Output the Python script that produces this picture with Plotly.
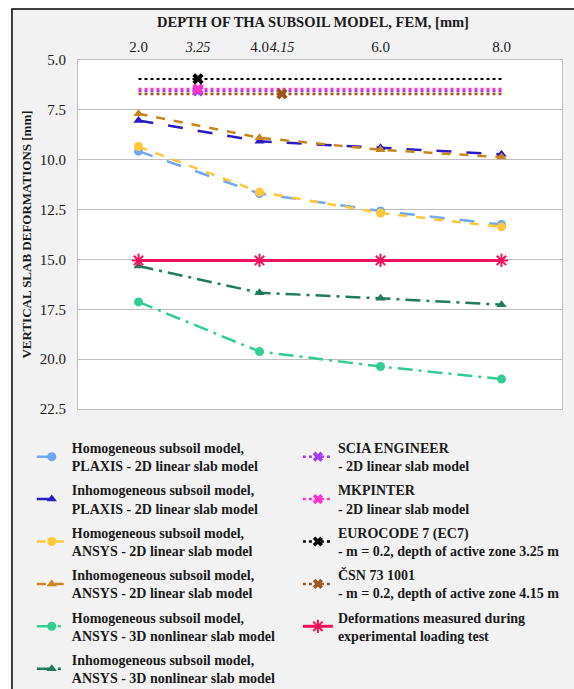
import plotly.graph_objects as go

# Depth of the FEM subsoil model [m]
depths = [2.0, 4.0, 6.0, 8.0]

# Vertical slab deformations [mm]
homog_plaxis_2d = [9.57, 11.70, 12.57, 13.25]
inhomog_plaxis_2d = [8.03, 9.08, 9.40, 9.73]
homog_ansys_2d = [9.34, 11.62, 12.67, 13.37]
inhomog_ansys_2d = [7.70, 8.90, 9.50, 9.87]
homog_ansys_3d = [17.13, 19.62, 20.37, 21.00]
inhomog_ansys_3d = [15.33, 16.67, 16.95, 17.27]
measured = [15.05, 15.05, 15.05, 15.05]

# Single-value methods: deformation [mm] and the depth [m] where it is marked
scia_value, scia_depth = 6.55, 3.25
mkpinter_value, mkpinter_depth = 6.45, 3.25
ec7_value, ec7_depth = 5.95, 3.25
csn_value, csn_depth = 6.70, 4.15

depth_ticks = [2.0, 4.0, 6.0, 8.0]
zone_ticks = [3.25, 4.15]
y_ticks = [5.0, 7.5, 10.0, 12.5, 15.0, 17.5, 20.0, 22.5]

SERIF = "Liberation Serif"
TXT = "#1A1A1A"

fig = go.Figure()

fem_series = [
    ("Homogeneous subsoil model,<br>PLAXIS - 2D linear slab model", homog_plaxis_2d, "#6FA8EE", "longdash", "circle"),
    ("Inhomogeneous subsoil model,<br>PLAXIS - 2D linear slab model", inhomog_plaxis_2d, "#2B1BC4", "longdash", "triangle-up"),
    ("Homogeneous subsoil model,<br>ANSYS - 2D linear slab model", homog_ansys_2d, "#FFC83A", "dash", "circle"),
    ("Inhomogeneous subsoil model,<br>ANSYS - 2D linear slab model", inhomog_ansys_2d, "#C8871E", "dash", "triangle-up"),
    ("Homogeneous subsoil model,<br>ANSYS - 3D nonlinear slab model", homog_ansys_3d, "#33CC92", "longdashdot", "circle"),
    ("Inhomogeneous subsoil model,<br>ANSYS - 3D nonlinear slab model", inhomog_ansys_3d, "#1F7B5B", "longdashdot", "triangle-up"),
]

for i, (name, vals, color, dash, symbol) in enumerate(fem_series):
    fig.add_trace(go.Scatter(
        x=depths, y=vals, name=name, mode="lines+markers",
        line=dict(color=color, width=2.5, dash=dash),
        marker=dict(color=color, size=9, symbol=symbol),
        legend="legend", legendgroup=f"g{i}",
    ))

ref_series = [
    ("SCIA ENGINEER<br>- 2D linear slab model", scia_value, scia_depth, "#A23BF2"),
    ("MKPINTER<br>- 2D linear slab model", mkpinter_value, mkpinter_depth, "#FF33CC"),
    ("EUROCODE 7 (EC7)<br>- m = 0.2, depth of active zone 3.25 m", ec7_value, ec7_depth, "#000000"),
    ("ČSN 73 1001<br>- m = 0.2, depth of active zone 4.15 m", csn_value, csn_depth, "#9A561C"),
]

# horizontal dotted level across the modelled depth range
for i, (name, val, depth, color) in enumerate(ref_series):
    fig.add_trace(go.Scatter(
        x=[depths[0], depths[-1]], y=[val, val], mode="lines",
        line=dict(color=color, width=2.5 if color != "#000000" else 2, dash="dot"),
        showlegend=False, hoverinfo="skip",
    ))

# point markers at the active-zone depth (secondary depth axis)
for i, (name, val, depth, color) in enumerate(ref_series):
    fig.add_trace(go.Scatter(
        x=[depth], y=[val], mode="markers", xaxis="x2",
        marker=dict(color=color, size=10, symbol="x"),
        showlegend=False,
    ))

# legend entries for the single-value methods
for i, (name, val, depth, color) in enumerate(ref_series):
    fig.add_trace(go.Scatter(
        x=[None], y=[None], name=name, mode="lines+markers",
        line=dict(color=color, width=2.5, dash="dot"),
        marker=dict(color=color, size=9, symbol="x"),
        legend="legend2", legendgroup=f"r{i}",
    ))

fig.add_trace(go.Scatter(
    x=depths, y=measured, name="Deformations measured during<br>experimental loading test",
    mode="lines+markers",
    line=dict(color="#F5125C", width=3),
    marker=dict(color="#F5125C", size=11, symbol="asterisk-open",
                line=dict(color="#F5125C", width=2)),
    legend="legend2", legendgroup="m",
))

legend_font = dict(family=SERIF, size=14, color=TXT, weight="bold")
tick_font = dict(family=SERIF, size=15, color=TXT)

fig.update_layout(
    width=574, height=689,
    margin=dict(l=78, r=12, t=60, b=280, autoexpand=False),
    paper_bgcolor="white", plot_bgcolor="white",
    font=dict(family=SERIF, size=15, color=TXT),
    title=dict(text="<b>DEPTH OF THA SUBSOIL MODEL, FEM, [mm]</b>",
               font=dict(family=SERIF, size=14.5, color=TXT),
               xref="container", yref="container",
               x=313 / 574, y=1 - 22 / 689, xanchor="center", yanchor="middle"),
    xaxis=dict(
        side="top", range=[1.0, 9.0],
        tickvals=depth_ticks, ticktext=[f"{v:.1f}" for v in depth_ticks],
        ticks="outside", ticklen=1, tickcolor="rgba(0,0,0,0)",
        tickfont=tick_font,
        showgrid=False, zeroline=False,
        showline=True, linecolor="#BFBFBF", linewidth=1.2, mirror=True,
    ),
    xaxis2=dict(
        overlaying="x", side="top", range=[1.964, 7.151],
        tickvals=zone_ticks, ticktext=[f"{v:.2f}" for v in zone_ticks],
        ticks="outside", ticklen=1, tickcolor="rgba(0,0,0,0)",
        tickfont=dict(family=SERIF, size=14, color=TXT, style="italic"),
        showgrid=False, zeroline=False, showline=False,
    ),
    yaxis=dict(
        range=[y_ticks[-1], y_ticks[0]],
        tickvals=y_ticks, ticktext=[f"{v:.1f}" for v in y_ticks],
        ticks="outside", ticklen=8, tickcolor="rgba(0,0,0,0)",
        tickfont=tick_font,
        showgrid=True, gridcolor="#BFBFBF", gridwidth=1.2, zeroline=False,
        showline=True, linecolor="#BFBFBF", linewidth=1.2, mirror=True,
        title=dict(text="<b>VERTICAL SLAB DEFORMATIONS [mm]</b>",
                   font=dict(family=SERIF, size=13, color=TXT), standoff=5),
    ),
    legend=dict(
        x=-0.0955, y=-0.0659, xanchor="left", yanchor="top",
        bgcolor="rgba(0,0,0,0)", traceorder="grouped", tracegroupgap=3,
        font=legend_font,
    ),
    legend2=dict(
        x=0.4543, y=-0.0659, xanchor="left", yanchor="top",
        bgcolor="rgba(0,0,0,0)", traceorder="grouped", tracegroupgap=3,
        font=legend_font,
    ),
    shapes=[
        dict(type="rect", xref="paper", yref="paper", layer="below",
             x0=-0.1364, x1=1.04, y0=-0.834, y1=1.146,
             fillcolor="#F2F2F2", line=dict(color="black", width=1.5)),
        dict(type="rect", xref="x domain", yref="y domain", layer="below",
             x0=0, x1=1, y0=0, y1=1, fillcolor="white", line=dict(width=0)),
    ],
)

fig.write_html("out.html")
